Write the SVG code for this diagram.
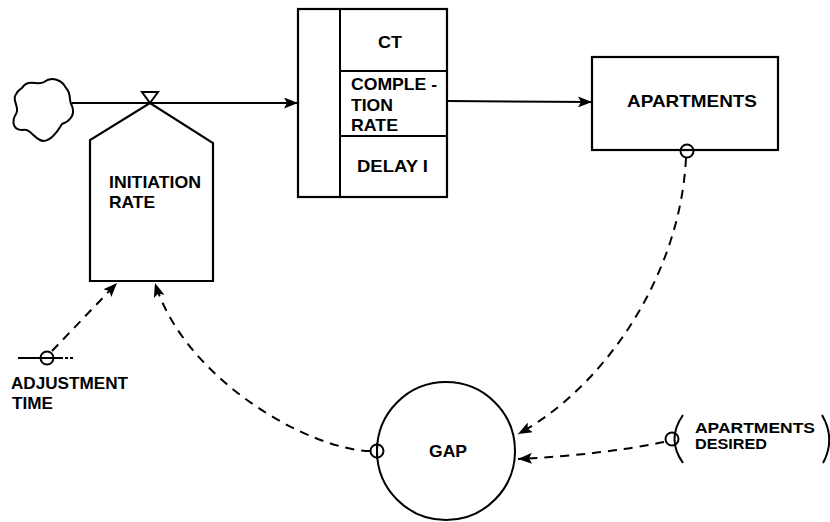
<svg xmlns="http://www.w3.org/2000/svg" width="830" height="522" viewBox="0 0 830 522">
  <style>
    .ln { fill: none; stroke: #000; stroke-width: 2; }
    .box { fill: #fff; stroke: #000; stroke-width: 2.2; }
    .dash { fill: none; stroke: #000; stroke-width: 2; stroke-dasharray: 9 7; }
    .lbl { font-family: "Liberation Sans", Arial, sans-serif; font-weight: bold; font-size: 17px; fill: #000; }
    .sm { font-size: 14.5px; }
  </style>
  <defs>
    <marker id="arr" markerWidth="15" markerHeight="11" refX="14" refY="5.5" orient="auto" markerUnits="userSpaceOnUse">
      <path d="M0,0 L14,5.5 L0,11 L3,5.5 Z" fill="#000"/>
    </marker>
  </defs>

  <!-- source cloud -->
  <g id="source">
    <path class="ln" d="M22,88 C28,78 38,86 44,82 C52,76 62,80 66,88 C72,94 68,100 72,106 C76,116 68,122 62,124 C56,134 48,144 40,140 C32,136 30,128 22,130 C12,130 12,120 16,114 C20,108 13,102 15,96 C17,91 19,90 22,88 Z"/>
  </g>

  <!-- initiation rate -->
  <g id="initiation-rate">
    <path class="box" d="M90,281 L90,140 L150,103 L213,143 L213,281 Z"/>
    <path d="M142,92 L158,92 L150,103 Z" fill="#fff" stroke="#000" stroke-width="2"/>
    <text class="lbl" x="109" y="188" textLength="92" lengthAdjust="spacingAndGlyphs">INITIATION</text>
    <text class="lbl" x="109" y="208" textLength="46" lengthAdjust="spacingAndGlyphs">RATE</text>
  </g>

  <!-- construction delay -->
  <g id="construction">
    <rect class="box" x="298" y="9" width="149" height="188"/>
    <line class="ln" x1="340" y1="9" x2="340" y2="197" stroke-width="2.4"/>
    <line class="ln" x1="340" y1="71" x2="447" y2="71"/>
    <line class="ln" x1="340" y1="136" x2="447" y2="136"/>
    <text class="lbl" x="378" y="48" textLength="24" lengthAdjust="spacingAndGlyphs">CT</text>
    <text class="lbl" x="351" y="90" textLength="86" lengthAdjust="spacingAndGlyphs">COMPLE -</text>
    <text class="lbl" x="351" y="111" textLength="42" lengthAdjust="spacingAndGlyphs">TION</text>
    <text class="lbl" x="351" y="131" textLength="47" lengthAdjust="spacingAndGlyphs">RATE</text>
    <text class="lbl" x="357" y="172" textLength="71" lengthAdjust="spacingAndGlyphs">DELAY I</text>
  </g>

  <!-- apartments level -->
  <g id="apartments">
    <rect class="box" x="592" y="57" width="186" height="93"/>
    <text class="lbl" x="627" y="107" textLength="130" lengthAdjust="spacingAndGlyphs">APARTMENTS</text>
    <circle class="ln" cx="687" cy="151" r="6.5" fill="#fff"/>
  </g>

  <!-- gap auxiliary -->
  <g id="gap">
    <circle class="ln" cx="446" cy="451" r="69"/>
    <circle class="ln" cx="377" cy="451" r="6.5" fill="#fff"/>
    <line class="ln" x1="377" y1="443" x2="377" y2="459"/>
    <text class="lbl" x="429" y="457" textLength="38" lengthAdjust="spacingAndGlyphs">GAP</text>
  </g>

  <!-- adjustment time constant -->
  <g id="adjustment-time">
    <line class="ln" x1="18" y1="358" x2="60" y2="358"/>
    <line class="ln" x1="60" y1="358" x2="74" y2="358" stroke-dasharray="3 2"/>
    <circle class="ln" cx="47" cy="358" r="6.5"/>
    <text class="lbl" x="11" y="389" textLength="117" lengthAdjust="spacingAndGlyphs">ADJUSTMENT</text>
    <text class="lbl" x="12" y="409" textLength="41" lengthAdjust="spacingAndGlyphs">TIME</text>
  </g>

  <!-- apartments desired constant -->
  <g id="apartments-desired">
    <path class="ln" d="M683,415 Q666,439 683,463"/>
    <path class="ln" d="M822,415 Q836,439 823,463"/>
    <circle class="ln" cx="672" cy="439" r="6.5"/>
    <text class="lbl sm" x="695" y="433" textLength="120" lengthAdjust="spacingAndGlyphs">APARTMENTS</text>
    <text class="lbl sm" x="695" y="449" textLength="72" lengthAdjust="spacingAndGlyphs">DESIRED</text>
  </g>

  <!-- flows and information links -->
  <g id="connectors">
    <line class="ln" x1="72" y1="103" x2="298" y2="103" marker-end="url(#arr)"/>
    <line class="ln" x1="447" y1="101" x2="592" y2="102" marker-end="url(#arr)"/>
    <path class="dash" d="M686,158 C680,280 600,390 518,434" marker-end="url(#arr)"/>
    <path class="dash" d="M664,442 Q600,455 518,459" marker-end="url(#arr)"/>
    <path class="dash" d="M370,451 C310,450 185,380 155,283" marker-end="url(#arr)"/>
    <path class="dash" d="M52,351 L117,283" marker-end="url(#arr)"/>
  </g>
</svg>
